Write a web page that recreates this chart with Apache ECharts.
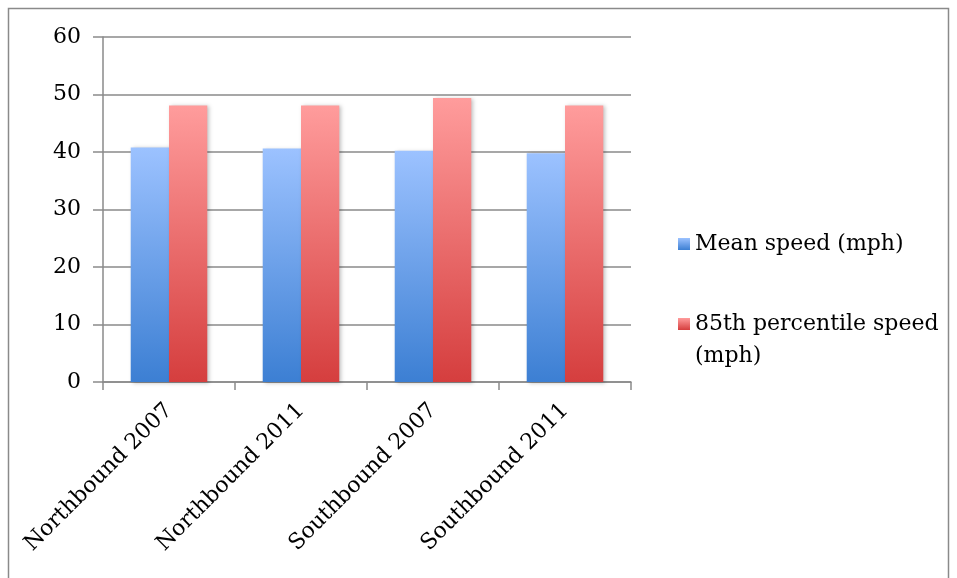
<!DOCTYPE html>
<html><head><meta charset="utf-8">
<script src="https://cdn.jsdelivr.net/npm/echarts@6/dist/echarts.min.js"></script>
<style>html,body{margin:0;padding:0;background:#fff}#c{width:957px;height:578px}</style>
</head><body><div id="c"></div>
<script>
const categories = ['Northbound 2007', 'Northbound 2011', 'Southbound 2007', 'Southbound 2011'];
const meanSpeed = [40.8, 40.6, 40.2, 39.8];
const pct85Speed = [48.1, 48.1, 49.4, 48.1];
const seriesNames = ['Mean speed (mph)', '85th percentile speed (mph)'];

const font = '"DejaVu Serif", "Liberation Serif", serif';
const blueTop = '#9cc2ff', blueBottom = '#3c7fd3';
const redTop = '#ff9c9c', redBottom = '#d53e3e';
function grad(top, bottom, o0, o1) {
  return new echarts.graphic.LinearGradient(0, 0, 0, 1, [{offset: o0 || 0, color: top}, {offset: o1 === undefined ? 1 : o1, color: bottom}]);
}
const blue = grad(blueTop, blueBottom);
const red = grad(redTop, redBottom);

// legend icons: 12x12 square inside a 12x44 box (centred for one-line item, top-aligned for two-line item)
const iconCentered = 'path://M0,0 L0.01,0 M0,16 L12,16 L12,28 L0,28 Z M0,44 L0.01,44';
const iconTop = 'path://M0,0 L12,0 L12,12 L0,12 Z M0,44 L0.01,44';

const chart = echarts.init(document.getElementById('c'));
chart.setOption({
  animation: false,
  graphic: [{type: 'rect', shape: {x: 8.5, y: 8.5, width: 940, height: 580}, style: {fill: 'none', stroke: '#8a8a8a', lineWidth: 1.5}, silent: true}],
  grid: {left: 103, right: 326, top: 37, bottom: 196, containLabel: false},
  legend: {
    orient: 'vertical', left: 673, top: 217, itemGap: 42, itemWidth: 12, itemHeight: 44,
    textStyle: {fontFamily: font, fontSize: 22, color: '#000', lineHeight: 32},
    formatter: function (name) { return name.length > 20 ? name.replace(/ (?=\(mph\)$)/, '\n') : name; },
    data: [
      {name: seriesNames[0], icon: iconCentered, itemStyle: {color: grad(blueTop, blueBottom, 16 / 44, 28 / 44)}},
      {name: seriesNames[1], icon: iconTop, itemStyle: {color: grad(redTop, redBottom, 0, 12 / 44)}}
    ]
  },
  xAxis: {
    type: 'category', data: categories,
    axisLine: {lineStyle: {color: '#8a8a8a', width: 1.5}},
    axisTick: {show: true, length: 8, lineStyle: {color: '#8a8a8a', width: 1.5}},
    axisLabel: {rotate: 45, fontFamily: font, fontSize: 22, color: '#000', margin: 25}
  },
  yAxis: {
    type: 'value', min: 0, max: 60, interval: 10,
    axisLine: {show: true, lineStyle: {color: '#8a8a8a', width: 1.5}},
    axisTick: {show: true, length: 10, lineStyle: {color: '#8a8a8a', width: 1.5}},
    splitLine: {lineStyle: {color: '#8a8a8a', width: 1.5}},
    axisLabel: {fontFamily: font, fontSize: 22, color: '#000', margin: 22}
  },
  series: [
    {name: seriesNames[0], type: 'bar', data: meanSpeed, barGap: '0%', barCategoryGap: '42%',
     itemStyle: {color: blue, shadowColor: 'rgba(0,0,0,0.25)', shadowBlur: 4, shadowOffsetX: 2, shadowOffsetY: 1}},
    {name: seriesNames[1], type: 'bar', data: pct85Speed, barGap: '0%', barCategoryGap: '42%',
     itemStyle: {color: red, shadowColor: 'rgba(0,0,0,0.25)', shadowBlur: 4, shadowOffsetX: 2, shadowOffsetY: 1}}
  ]
});
</script></body></html>
